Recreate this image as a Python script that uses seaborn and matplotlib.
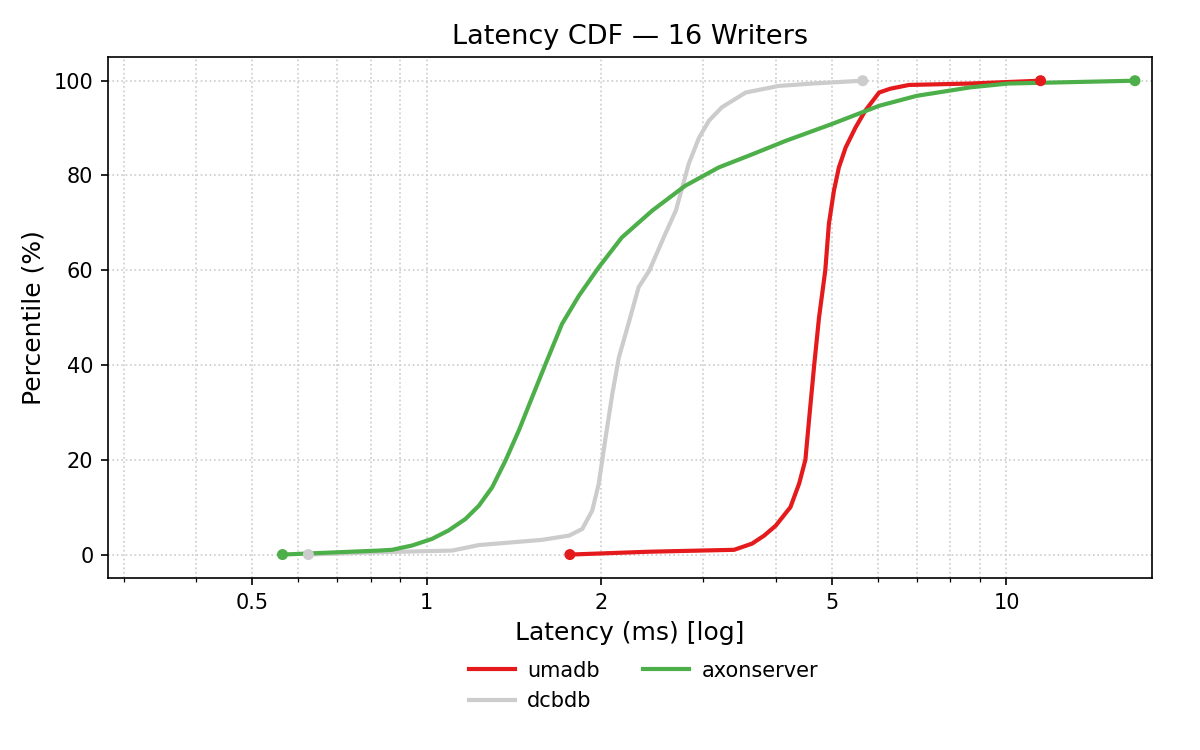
import numpy as np
import pandas as pd
import seaborn as sns
import matplotlib
matplotlib.use("Agg")
import matplotlib.pyplot as plt
from matplotlib.ticker import FixedLocator, FixedFormatter, LogLocator, NullFormatter

# percentile curves (latency ms, percentile %)
umadb_ms = [1.766, 2.42, 3.39, 3.64, 3.82, 4.0, 4.24, 4.39, 4.50, 4.57, 4.66, 4.75, 4.87,
            4.94, 5.04, 5.14, 5.28, 5.49, 5.71, 6.03, 6.30, 6.79, 8.67, 11.45]
umadb_pct = [0, 0.6, 1.0, 2.3, 4.0, 6.1, 10, 15, 20, 29, 40, 50, 60,
             69.8, 76.8, 81.7, 85.9, 90.1, 93.7, 97.5, 98.3, 99.1, 99.4, 100]

dcbdb_ms = [0.625, 0.83, 1.106, 1.23, 1.58, 1.76, 1.855, 1.93, 1.98, 2.035, 2.09, 2.145,
            2.22, 2.32, 2.42, 2.58, 2.69, 2.76, 2.83, 2.95, 3.07, 3.23, 3.55, 4.05, 4.63, 5.65]
dcbdb_pct = [0, 0.5, 0.84, 2.0, 3.1, 4.0, 5.4, 9.3, 14.9, 24.7, 33.9, 41.6,
             48, 56.4, 59.9, 67.7, 72.6, 77.5, 82.4, 88, 91.6, 94.4, 97.5, 98.9, 99.4, 100]

axon_ms = [0.564, 0.826, 0.871, 0.943, 1.021, 1.091, 1.166, 1.23, 1.297, 1.367, 1.442,
           1.52, 1.603, 1.712, 1.83, 1.98, 2.17, 2.45, 2.79, 3.19, 3.65, 4.16, 5.01,
           6.03, 7.0, 8.67, 10.07, 16.66]
axon_pct = [0, 0.84, 1.0, 1.9, 3.3, 5.1, 7.5, 10.3, 14.2, 19.8, 26.2,
            33.2, 40.2, 48.7, 54.6, 60.6, 66.9, 72.6, 77.8, 81.7, 84.5, 87.3, 90.9,
            94.7, 96.8, 98.6, 99.4, 100]

names = ["umadb", "dcbdb", "axonserver"]
colors = {"umadb": "#e41a1c", "dcbdb": "#cccccc", "axonserver": "#4daf4a"}

df = pd.concat([
    pd.DataFrame({"ms": umadb_ms, "pct": umadb_pct, "db": "umadb"}),
    pd.DataFrame({"ms": dcbdb_ms, "pct": dcbdb_pct, "db": "dcbdb"}),
    pd.DataFrame({"ms": axon_ms, "pct": axon_pct, "db": "axonserver"}),
], ignore_index=True)

ends = df.groupby("db", sort=False).nth([0, -1])

fig, ax = plt.subplots(figsize=(8, 5), dpi=150)
fig.subplots_adjust(left=0.09, right=0.96, top=0.924, bottom=0.229)

sns.lineplot(data=df, x="ms", y="pct", hue="db", hue_order=names, palette=colors,
             estimator=None, sort=False, linewidth=2, ax=ax)
sns.scatterplot(data=ends, x="ms", y="pct", hue="db", hue_order=names, palette=colors,
                s=28, edgecolor="none", legend=False, ax=ax, zorder=3)

ax.set_xscale("log")
ax.set_xlim(min(axon_ms) / 2, max(axon_ms) * 1.07)
ax.set_ylim(-5, 105)
major = [0.5, 1, 2, 5, 10]
ax.xaxis.set_major_locator(FixedLocator(major))
ax.xaxis.set_major_formatter(FixedFormatter(["0.5", "1", "2", "5", "10"]))
ax.xaxis.set_minor_locator(LogLocator(base=10, subs=np.arange(2, 10)))
ax.xaxis.set_minor_formatter(NullFormatter())
ax.grid(True, which="both", linestyle=":", color="0.8", linewidth=0.8)

ax.set_title("Latency CDF — 16 Writers", fontsize=13)
ax.set_xlabel("Latency (ms) [log]", fontsize=12)
ax.set_ylabel("Percentile (%)", fontsize=12)

ax.legend(loc="upper center", bbox_to_anchor=(0.513, -0.122), ncol=2, frameon=False,
          fontsize=10, handlelength=2.2, handletextpad=0.6, columnspacing=2.1)

fig.savefig("out.png", dpi=150)
